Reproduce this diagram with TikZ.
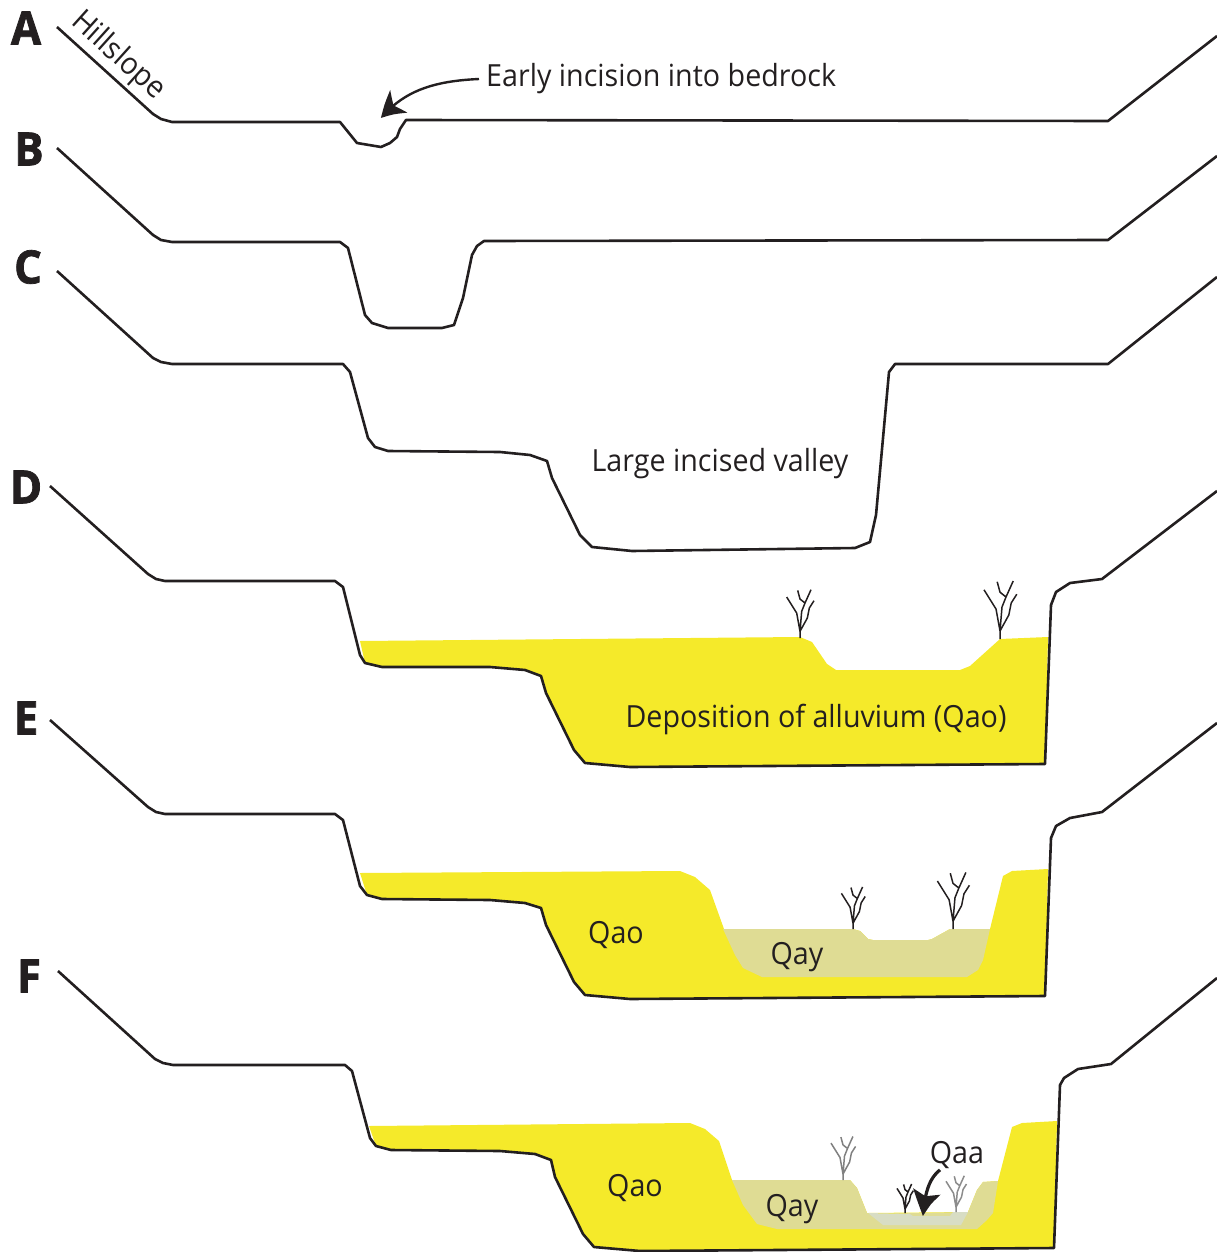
\documentclass[tikz,border=0pt]{standalone}
\usepackage{fontspec}
\setmainfont{Open Sans}[FakeStretch=0.94]
\newfontfamily\panelfont{Open Sans}[FakeStretch=0.95,BoldFeatures={FakeBold=1.6}]
\usetikzlibrary{arrows.meta,bending}
\definecolor{inkline}{HTML}{231F20}
\definecolor{qao}{HTML}{F5EA2A}
\definecolor{qay}{HTML}{DFDC94}
\definecolor{qaa}{HTML}{D8DDC4}
\tikzset{
  x=1pt,y=-1pt,
  profile/.style={draw=inkline,line width=2.6pt,line join=round,line cap=butt},
  panel/.style={font=\panelfont\bfseries\fontsize{46}{46}\selectfont,text=inkline,inner sep=0pt},
  lbl/.style={font=\fontsize{30.5}{30.5}\selectfont,text=inkline,inner sep=0pt},
  pointer/.style={draw=inkline,line width=2.4pt,-{Stealth[length=25pt,width=28pt,inset=7pt,bend]}},
  heavypointer/.style={draw=inkline,line width=3.2pt,-{Stealth[length=27pt,width=27pt,inset=6pt,bend]}},
  tree/.pic={
    \draw[line width=1.5pt,line join=round,pic actions]
      (0,0)--(0,-20)--(-10,-75)--(-40,-123)
      (0,-20)--(22,-60)--(28,-90)--(42,-112)
      (0,-20)--(5,-80)--(15,-105)--(33,-145)
      (15,-105)--(0,-117)--(-7,-143);
  }
}
\begin{document}
\begin{tikzpicture}
\useasboundingbox (0,0) rectangle (1217,1252);

% Sediment fills, panels D to F
\fill[qao] (360,641)--(800,637)--(812,642)--(827,664)--(836,670)--(960,670)--(970,666)--(1000,639)--(1048,637)
  --(1045,764)--(630,767)--(585,763)--(574,750)--(546,693)--(541,676)--(525,670)--(490,667)--(382,667)--(365,663)--cycle;

\fill[qao] (360,873)--(680,871)--(695,877)--(710,890)--(724,929)--(853,929)--(860,931)--(868,939)--(873,940)--(928,940)--(932,939)--(950,929)--(990,929)--(1003,876)--(1012,871)--(1048,869)
  --(1045,996)--(630,999)--(585,995)--(574,982)--(546,925)--(541,908)--(525,903)--(490,900)--(382,899)--(367,895)--cycle;
\fill[qay] (723,929)--(853,929)--(860,931)--(868,939)--(873,940)--(928,940)--(932,939)--(950,929)--(990,929)
  --(983,960)--(978,970)--(967,977)--(762,977)--(743,968)--(735,955)--cycle;

\fill[qao] (369,1126)--(690,1123)--(705,1129)--(719,1141)--(732,1180)--(850,1180)--(857,1188)--(867,1213)--(968,1212)--(977,1190)--(983,1182)--(998,1181)--(1012,1127)--(1022,1123)--(1057,1121)
  --(1054,1248)--(640,1251)--(594,1247)--(583,1234)--(555,1177)--(551,1160)--(535,1154)--(500,1151)--(391,1150)--(376,1146)--cycle;
\fill[qay] (732,1180)--(850,1180)--(857,1188)--(867,1213)--(870,1214)--(968,1212)--(977,1190)--(983,1182)--(998,1181)
  --(993,1213)--(987,1220)--(977,1229)--(777,1229)--(757,1224)--(743,1205)--cycle;
\fill[qaa] (868,1213)--(910,1214)--(913,1216)--(950,1216)--(953,1212)--(968,1212)--(961,1225)--(883,1225)--cycle;

% Ground profiles, panels A to F
\draw[profile] (57,27)--(153,114)--(161,119)--(172,122)--(340,122)--(357,143)--(381,147)--(390,143)--(397,137)--(400,129)--(406,120)--(1108,121)--(1217,36);
\draw[profile] (57,148)--(153,235)--(161,240)--(172,242)--(340,242)--(348,248)--(365,315)--(372,323)--(388,328)--(442,328)--(454,325)--(463,298)--(472,255)--(477,246)--(484,241)--(1108,240)--(1217,156);
\draw[profile] (57,271)--(153,358)--(161,362)--(172,364)--(343,364)--(350,372)--(368,438)--(375,447)--(388,451)--(500,452)--(530,455)--(547,461)--(552,478)--(580,535)--(592,547)--(632,551)--(855,548)--(870,542)--(876,515)--(889,372)--(895,364)--(1108,364)--(1217,277);
\draw[profile] (50,486)--(148,574)--(156,579)--(165,581)--(335,581)--(343,587)--(360,655)--(365,663)--(382,667)--(490,667)--(525,670)--(541,676)--(546,693)--(574,750)--(585,763)--(630,767)--(1045,764)--(1051,605)--(1056,592)--(1070,583)--(1102,579)--(1217,491);
\draw[profile] (50,720)--(148,807)--(156,812)--(165,814)--(335,814)--(343,820)--(360,886)--(367,895)--(382,899)--(490,900)--(525,903)--(541,908)--(546,925)--(574,982)--(585,995)--(630,999)--(1045,996)--(1051,838)--(1056,826)--(1070,818)--(1102,812)--(1217,723);
\draw[profile] (58,971)--(155,1059)--(163,1063)--(173,1065)--(345,1065)--(352,1071)--(370,1138)--(376,1146)--(391,1150)--(500,1151)--(535,1154)--(551,1160)--(555,1177)--(583,1234)--(594,1247)--(640,1251)--(1054,1248)--(1060,1085)--(1064,1078)--(1078,1069)--(1111,1064)--(1217,978);

% Vegetation
\pic[scale=0.333,draw=inkline] at (800,638) {tree};
\pic[scale=0.4,draw=inkline] at (1000,639) {tree};
\pic[scale=0.29,draw=inkline] at (853,929) {tree};
\pic[scale=0.39,draw=inkline] at (953,929) {tree};
\pic[scale=0.3,draw=black!50] at (843,1180) {tree};
\pic[scale=0.2,draw=inkline] at (905,1213) {tree};
\pic[scale=0.25,draw=black!45] at (956,1212) {tree};

% Panel letters
\node[panel] (pa) at (26,28) {A};
\node[panel] (pb) at (29,149) {B};
\node[panel] (pc) at (28,267) {C};
\node[panel] (pd) at (26,487) {D};
\node[panel] (pe) at (26,718) {E};
\node[panel] (pf) at (29,976) {F};

% Labels
\node[lbl,rotate=-42] (hill) at (118,56) {Hillslope};
\node[lbl,anchor=west] (early) at (486,79) {Early incision into bedrock};
\node[lbl] (valley) at (720,464) {Large incised valley};
\node[lbl] (dep) at (816,719) {Deposition of alluvium (Qao)};
\node[lbl] (qao1) at (616,935) {Qao};
\node[lbl] (qay1) at (797,957) {Qay};
\node[lbl] (qao2) at (635,1188) {Qao};
\node[lbl] (qay2) at (792,1209) {Qay};
\node[lbl] (qaa1) at (957,1155) {Qaa};

% Pointers
\coordinate (earlytip) at (381,118);
\coordinate (qaatip) at (923,1216);
\draw[pointer] (early.west) ++(-7,0) .. controls (435,81) and (405,90) .. (earlytip);
\draw[heavypointer] (qaa1.south) ++(-17,1) .. controls (930,1178) and (925,1190) .. (qaatip);
\end{tikzpicture}
\end{document}
